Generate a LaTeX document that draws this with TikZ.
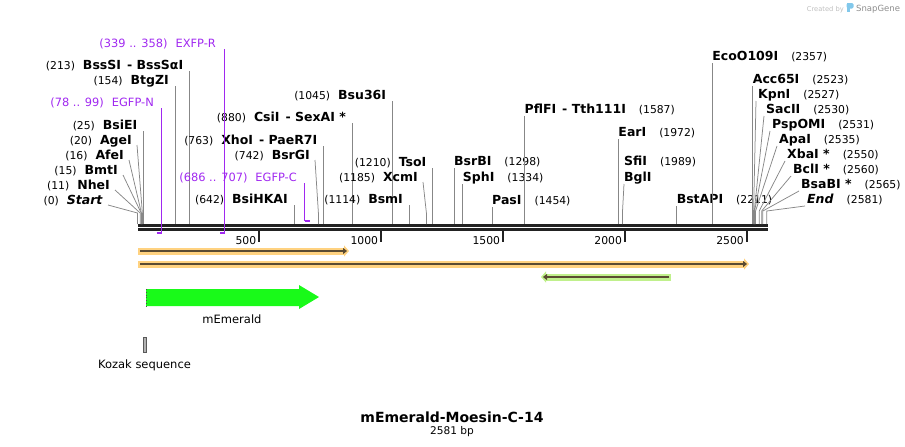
\documentclass[tikz,border=0pt]{standalone}
\usepackage{fontspec}
\setmainfont{DejaVu Sans}
\usetikzlibrary{arrows.meta}
\definecolor{cutgray}{RGB}{135,135,135}
\definecolor{seqblack}{RGB}{34,34,34}
\definecolor{primerpurple}{RGB}{160,40,240}
\definecolor{orfyellow}{RGB}{255,210,128}
\definecolor{orfgreen}{RGB}{192,240,140}
\definecolor{orfdark}{RGB}{90,75,50}
\definecolor{emerald}{RGB}{25,250,25}
\definecolor{snapblue}{RGB}{130,200,235}
\newcommand{\bpx}[1]{137.5+0.2438*#1}
\newcommand{\numtxt}[1]{{\fontsize{10.8}{13}\selectfont\mdseries(#1)}}
\newcommand{\cutL}[2]{\numtxt{#1}\hspace{8pt}#2}
\newcommand{\cutR}[2]{#1\hspace{13pt}\numtxt{#2}}
\tikzset{
  site/.style={font=\fontsize{12.5}{15}\selectfont\bfseries, inner sep=0pt},
  siteL/.style={site, anchor=base east},
  siteR/.style={site, anchor=base west},
  cut/.style={draw=cutgray, line width=0.75pt},
  primerlbl/.style={font=\fontsize{11.4}{14}\selectfont, text=primerpurple, inner sep=0pt, anchor=base east},
  primer/.style={draw=primerpurple, line width=0.8pt},
  primerbar/.style={draw=primerpurple, line width=2pt},
  seq/.style={draw=seqblack, line width=2.6pt},
  tick/.style={draw=seqblack, line width=2pt},
  ticklbl/.style={font=\fontsize{10.8}{13}\selectfont, inner sep=0pt, anchor=base east},
  orfhalo/.style={draw=#1, line width=7pt, -{Triangle[length=5pt,width=11pt]}},
  orfcore/.style={draw=orfdark, line width=2.5pt, -{Triangle[length=4pt,width=6pt]}},
  featlbl/.style={font=\fontsize{11.5}{14}\selectfont, inner sep=0pt, anchor=base}
}
\begin{document}
\begin{tikzpicture}[x=1pt,y=-1pt]
\useasboundingbox (0,0) rectangle (905,447);
\node[font=\fontsize{6.7}{8}\selectfont, text=black!25, inner sep=0pt, anchor=base east] (createdby) at (844,12) {Created by};
\fill[snapblue] (846.5,3) rectangle (849.5,12);
\fill[snapblue, rounded corners=1.5pt] (846.5,3) rectangle (853.5,8.5);
\node[font=\fontsize{8.5}{10}\selectfont, text=black!45, inner sep=0pt, anchor=base west] (snapgene) at (856,12) {SnapGene};
\coordinate (seq0) at (138,225.3);
\coordinate (seqN) at (768,225.3);
\draw[seq] (seq0) -- (seqN);
\draw[seq] ([yshift=-4.4pt]seq0) -- ([yshift=-4.4pt]seqN);
\foreach \t in {500,1000,...,2500}{
  \coordinate (tk\t) at ({\bpx{\t}},231);
  \draw[tick] (tk\t) -- ++(0,11);
  \node[ticklbl] (tl\t) at ({\bpx{\t}-3},244.5) {\t};
}
\foreach \bp/\nm/\yb [count=\i] in {25/BsiEI/129, 154/BtgZI/84, 213/{BssSI\hspace{6pt}- BssSαI}/69,
    642/BsiHKAI/203, 763/{XhoI\hspace{6pt}- PaeR7I}/144, 880/{CsiI\hspace{6pt}- SexAI *}/121,
    1045/Bsu36I/99, 1114/BsmI/203, 1210/TsoI/166}{
  \coordinate (sL\i) at ({\bpx{\bp}},224);
  \node[siteL] (eL\i) at ({\bpx{\bp}-6},\yb) {\cutL{\bp}{\nm}};
  \draw[cut] ([yshift=-2pt]eL\i.base -| sL\i) -- (sL\i);
}
\foreach \bp/\nm/\xe/\yb [count=\i] in {0/{\textit{Start}}/103/204, 11/NheI/110/189, 15/BmtI/118/174,
    16/AfeI/124/159, 20/AgeI/132/144, 742/BsrGI/310/159, 1185/XcmI/418/181}{
  \coordinate (sK\i) at ({\bpx{\bp}},224);
  \node[siteL] (eK\i) at (\xe,\yb) {\cutL{\bp}{\nm}};
  \draw[cut] ([xshift=5pt,yshift=-1pt]eK\i.base east) -- (sK\i |- 0,213) -- (sK\i);
}
\foreach \bp/\nm/\yb [count=\i] in {1298/BsrBI/165, 1334/SphI/181, 1454/PasI/204,
    1587/{PflFI\hspace{6pt}- Tth111I}/113, 1972/EarI/136, 2211/BstAPI/203, 2357/EcoO109I/60, 2523/Acc65I/83}{
  \coordinate (sR\i) at ({\bpx{\bp}},224);
  \node[siteR] (eR\i) at ({\bpx{\bp}},\yb) {\cutR{\nm}{\bp}};
  \draw[cut] ([yshift=-3pt]eR\i.base west) -- (sR\i);
}
\foreach \bp/\nm/\xs/\yb [count=\i] in {2527/KpnI/758/98, 2530/SacII/766/113, 2531/PspOMI/772/128,
    2535/ApaI/779/143, 2550/{XbaI *}/787/158, 2560/{BclI *}/793/173, 2565/{BsaBI *}/801/188, 2581/{\textit{End}}/807/203}{
  \coordinate (sF\i) at ({\bpx{\bp}},224);
  \node[siteR] (eF\i) at (\xs,\yb) {\cutR{\nm}{\bp}};
  \draw[cut] ([xshift=-2pt,yshift=-3pt]eF\i.base west) -- (sF\i |- 0,211) -- (sF\i);
}
\coordinate (s1989) at ({\bpx{1989}},224);
\node[siteR] (sfii) at (624,165) {\cutR{SfiI}{1989}};
\node[siteR] (bgli) at (624,181) {BglI};
\draw[cut] ([yshift=-3pt]bgli.base west) -- (s1989 |- 0,213) -- (s1989);
\node[primerlbl] (egfpn) at (154,106) {(78 .. 99)\hspace{8pt}EGFP-N};
\coordinate (egfpnA) at ({\bpx{78}},233);
\coordinate (egfpnB) at ({\bpx{99}},233);
\draw[primer] ([yshift=-2pt]egfpn.base -| egfpnB) -- (egfpnB);
\draw[primerbar] (egfpnA) -- (egfpnB);
\node[primerlbl] (exfpr) at (216,47) {(339 .. 358)\hspace{8pt}EXFP-R};
\coordinate (exfprA) at ({\bpx{339}},233);
\coordinate (exfprB) at ({\bpx{358}},233);
\draw[primer] ([yshift=-2pt]exfpr.base -| exfprB) -- (exfprB);
\draw[primerbar] (exfprA) -- (exfprB);
\node[primerlbl] (egfpc) at (297,181) {(686 .. 707)\hspace{8pt}EGFP-C};
\coordinate (egfpcA) at ({\bpx{686}},221);
\coordinate (egfpcB) at ({\bpx{707}},221);
\draw[primer] ([yshift=-2pt]egfpc.base -| egfpcA) -- (egfpcA);
\draw[primerbar] (egfpcA) -- (egfpcB);
\coordinate (orf1a) at (138,251);
\coordinate (orf1b) at (349,251);
\coordinate (orf2a) at (138,264);
\coordinate (orf2b) at (749,264);
\coordinate (orf3a) at (671,277);
\coordinate (orf3b) at (541,277);
\draw[orfhalo=orfyellow] (orf1a) -- (orf1b);
\draw[orfcore] ([xshift=2pt]orf1a) -- ([xshift=-2pt]orf1b);
\draw[orfhalo=orfyellow] (orf2a) -- (orf2b);
\draw[orfcore] ([xshift=2pt]orf2a) -- ([xshift=-2pt]orf2b);
\draw[orfhalo=orfgreen] (orf3a) -- (orf3b);
\draw[orfcore] ([xshift=-2pt]orf3a) -- ([xshift=2pt]orf3b);
\fill[emerald] (146,289) -- (299,289) -- (299,285) -- (319,297) -- (299,309) -- (299,306) -- (146,306) -- cycle;
\draw[black!70, dotted, line width=0.8pt] (146,289) -- (146,306);
\node[featlbl] (memerald) at (232,323) {mEmerald};
\draw[black!65, fill=black!30, line width=0.8pt] (143.5,337) rectangle (146,352);
\node[featlbl] (kozak) at (144.5,368) {Kozak sequence};
\node[font=\fontsize{14}{16}\selectfont\bfseries, inner sep=0pt, anchor=base] (title) at (452,422) {mEmerald-Moesin-C-14};
\node[font=\fontsize{10.6}{12}\selectfont, inner sep=0pt, anchor=base] (length) at (452,434) {2581 bp};
\end{tikzpicture}
\end{document}
